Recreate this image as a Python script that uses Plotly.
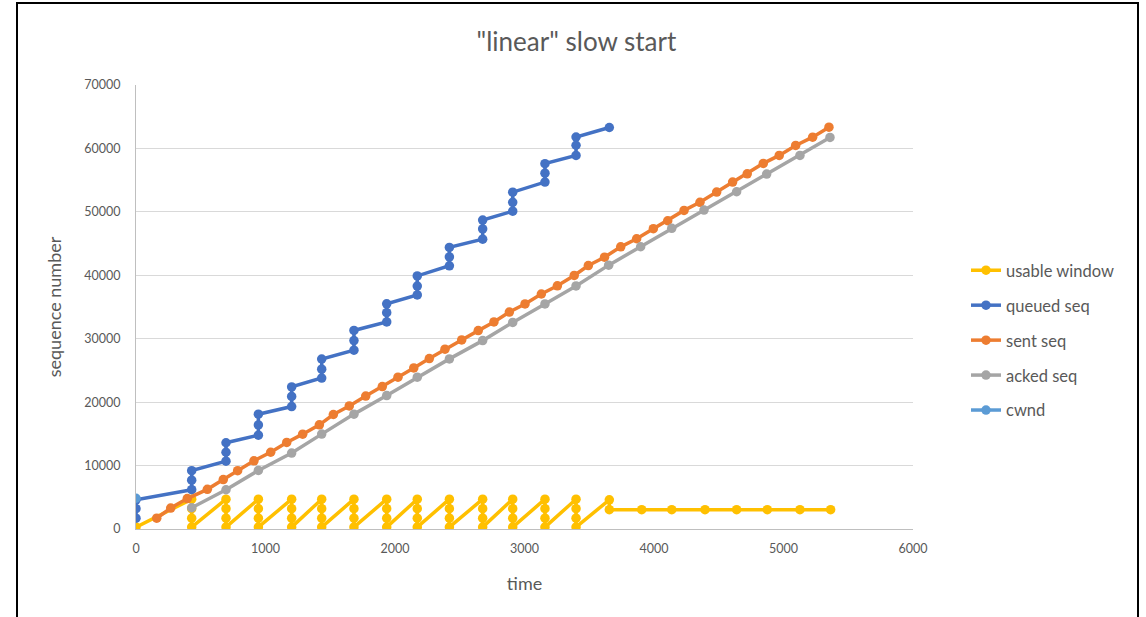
import plotly.graph_objects as go

# ---------------- data ----------------
# times at which the queued / usable-window columns occur
col_times = [0, 430, 695, 945, 1202, 1434, 1683, 1936, 2172, 2420, 2677, 2909, 3158, 3398, 3655]

# queued seq: values stacked at each column time
queued_cols = [
    [1700, 3200, 4600],
    [6200, 7700, 9200],
    [10700, 12100, 13600],
    [14800, 16400, 18100],
    [19300, 20900, 22400],
    [23800, 25200, 26800],
    [28200, 29700, 31300],
    [32650, 34100, 35500],
    [36900, 38300, 39900],
    [41500, 42900, 44400],
    [45700, 47300, 48700],
    [50100, 51500, 53100],
    [54700, 56100, 57600],
    [58900, 60500, 61800],
    [63300],
]

# usable window: values stacked at each column time
usable_cols = [
    [300],
    [4700, 3200, 1700, 300],
    [4700, 3200, 1700, 300],
    [4700, 3200, 1700, 300],
    [4700, 3200, 1700, 300],
    [4700, 3200, 1700, 300],
    [4700, 3200, 1700, 300],
    [4700, 3200, 1700, 300],
    [4700, 3200, 1700, 300],
    [4700, 3200, 1700, 300],
    [4700, 3200, 1700, 300],
    [4700, 3200, 1700, 300],
    [4700, 3200, 1700, 300],
    [4700, 3200, 1700, 300],
    [4600, 3050],
]
usable_tail_t = [3905, 4137, 4394, 4638, 4875, 5127, 5364]
usable_tail_v = [3050, 3050, 3050, 3050, 3050, 3050, 3050]

sent_t = [160, 268, 396, 551, 674, 785, 911, 1040, 1164, 1287, 1416, 1524, 1647, 1774, 1902,
          2023, 2145, 2265, 2386, 2515, 2643, 2764, 2883, 3004, 3130, 3254, 3384, 3493, 3618,
          3743, 3866, 3995, 4106, 4232, 4355, 4484, 4607, 4720, 4844, 4967, 5094, 5225, 5351]
sent_v = [1700, 3300, 4800, 6250, 7800, 9200, 10750, 12100, 13650, 14950, 16420, 18050, 19400,
          20950, 22450, 23930, 25400, 26870, 28350, 29810, 31280, 32650, 34200, 35480, 37050,
          38340, 39970, 41540, 42850, 44480, 45760, 47340, 48600, 50230, 51500, 53120, 54690,
          56000, 57640, 58900, 60470, 61780, 63350]

acked_t = [430, 695, 945, 1202, 1434, 1683, 1936, 2172, 2420, 2677, 2909, 3158, 3398, 3650,
           3897, 4137, 4386, 4638, 4870, 5127, 5359]
acked_v = [3350, 6190, 9230, 11970, 14960, 18110, 21040, 23930, 26820, 29700, 32570, 35480,
           38320, 41600, 44500, 47400, 50280, 53170, 55950, 58900, 61730]

cwnd_t = [0]
cwnd_v = [4850]

x_ticks = [0, 1000, 2000, 3000, 4000, 5000, 6000]
y_ticks = [0, 10000, 20000, 30000, 40000, 50000, 60000, 70000]

# ---------------- build series ----------------
queued_t, queued_v = [], []
for t, vals in zip(col_times, queued_cols):
    for v in vals:
        queued_t.append(t)
        queued_v.append(v)

usable_t, usable_v = [], []
for t, vals in zip(col_times, usable_cols):
    for v in vals:
        usable_t.append(t)
        usable_v.append(v)
usable_t += usable_tail_t
usable_v += usable_tail_v

FONT = "Lato"
TXT = "#595959"

series = [
    ("usable window", usable_t, usable_v, "#FFC000"),
    ("queued seq", queued_t, queued_v, "#4472C4"),
    ("sent seq", sent_t, sent_v, "#ED7D31"),
    ("acked seq", acked_t, acked_v, "#A5A5A5"),
    ("cwnd", cwnd_t, cwnd_v, "#5B9BD5"),
]

fig = go.Figure()
for name, xs, ys, col in series:
    fig.add_trace(go.Scatter(
        x=xs, y=ys, name=name, mode="lines+markers",
        line=dict(color=col, width=3.5),
        marker=dict(color=col, size=9.5, symbol="circle"),
        legendgroup=name,
    ))

L, R, T, B = 136, 233, 85, 88
W, H = 1146, 617
pw = W - L - R
ph = H - T - B

def px_x(px):
    return (px - L) / pw

def px_y(py):
    return (H - B - py) / ph

fig.update_layout(
    width=W, height=H,
    margin=dict(l=L, r=R, t=T, b=B, pad=0),
    paper_bgcolor="white", plot_bgcolor="white",
    font=dict(family=FONT, color=TXT, size=12),
    title=dict(text='"linear" slow start', x=0.503, xanchor="center",
               y=1 - 42 / H, yanchor="middle",
               font=dict(family=FONT, size=26, color=TXT)),
    xaxis=dict(range=[0, 6000], tickvals=x_ticks, ticktext=[str(v) for v in x_ticks],
               showgrid=False, zeroline=False, showline=True, linecolor="#BFBFBF", linewidth=1,
               ticks="", ticklabelstandoff=8,
               tickfont=dict(family=FONT, size=12.5, color=TXT),
               title=dict(text="time", standoff=22, font=dict(family=FONT, size=18, color=TXT))),
    yaxis=dict(range=[0, 70000], tickvals=y_ticks, ticktext=[str(v) for v in y_ticks],
               showgrid=True, gridcolor="#D9D9D9", gridwidth=1, zeroline=False,
               showline=True, linecolor="#BFBFBF", linewidth=1,
               ticks="", ticklabelstandoff=12,
               tickfont=dict(family=FONT, size=12.5, color=TXT),
               title=dict(text="sequence number", standoff=17,
                          font=dict(family=FONT, size=18, color=TXT))),
    legend=dict(x=px_x(966), xanchor="left", y=px_y(253), yanchor="top",
                font=dict(family=FONT, size=16.5, color=TXT),
                tracegroupgap=10.5, bgcolor="rgba(0,0,0,0)", itemwidth=30),
    showlegend=True,
    shapes=[dict(type="rect", xref="paper", yref="paper",
                 x0=px_x(17), x1=px_x(1138), y0=px_y(640), y1=px_y(3),
                 line=dict(color="black", width=2), fillcolor="rgba(0,0,0,0)", layer="below")],
)

fig.write_html("out.html", config={"displayModeBar": False},
               post_script="document.body.style.margin='0px';")
